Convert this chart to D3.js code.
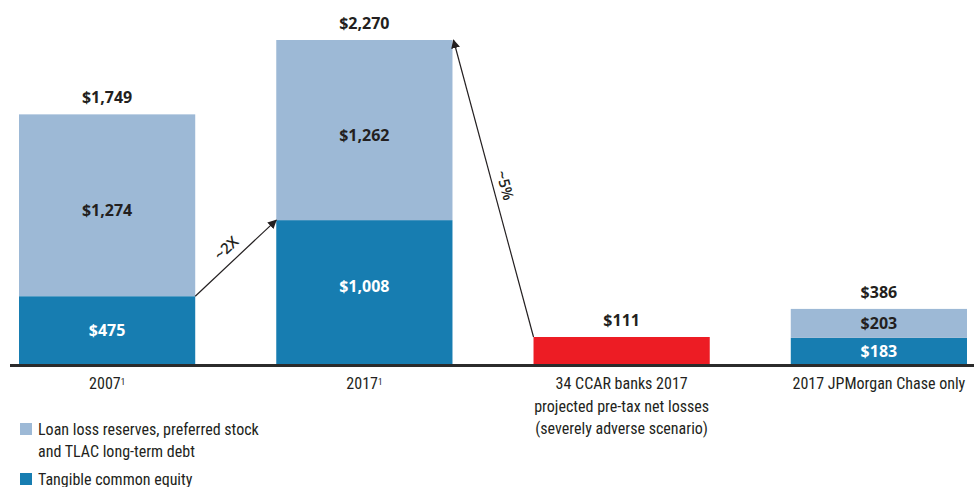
<!DOCTYPE html>
<html>
<head>
<meta charset="utf-8">
<script src="https://cdn.jsdelivr.net/npm/d3@7"></script>
<style>
  body { margin: 0; background: #fff; }
  svg text { fill: #231f20; }
  .val { font-family: "Open Sans", sans-serif; font-weight: 700; font-size: 16px; }
  .cat, .leg { font-family: "Liberation Sans Narrow", "Roboto Condensed", "Liberation Sans", sans-serif; font-size: 16px; }
</style>
</head>
<body>
<svg id="chart" width="974" height="487"></svg>
<script>
// Data
const categories = ["2007", "2017", "34 CCAR banks 2017", "2017 JPMorgan Chase only"];
const catLines = [
  ["2007"],
  ["2017"],
  ["34 CCAR banks 2017", "projected pre-tax net losses", "(severely adverse scenario)"],
  ["2017 JPMorgan Chase only"]
];
const catSup = ["1", "1", "", ""];
const tangibleEquity = [475, 1008, null, 183];
const reservesDebt = [1274, 1262, null, 203];
const netLosses = [null, null, 111, null];
const totals = [1749, 2270, 111, 386];
const legendLabels = [
  ["Loan loss reserves, preferred stock", "and TLAC long-term debt"],
  ["Tangible common equity"]
];

const lightBlue = "#9db9d6";
const darkBlue = "#177db1";
const red = "#ed1c24";

const svg = d3.select("#chart");

const x = d3.scaleBand().domain(categories).range([19, 967]).paddingInner(0.315).paddingOuter(0);
const y = d3.scaleLinear().domain([0, 2270]).range([364, 40]);
const bw = x.bandwidth();
const minRedHeight = 27;

// stacked bars
categories.forEach((c, i) => {
  if (tangibleEquity[i] != null) {
    const t = tangibleEquity[i], r = reservesDebt[i];
    svg.append("rect")
      .attr("x", x(c)).attr("width", bw)
      .attr("y", y(t)).attr("height", y(0) - y(t))
      .attr("fill", darkBlue);
    svg.append("rect")
      .attr("x", x(c)).attr("width", bw)
      .attr("y", y(t + r)).attr("height", y(t) - y(t + r))
      .attr("fill", lightBlue);
    // segment labels
    svg.append("text").attr("class", "val")
      .attr("x", x(c) + bw / 2)
      .attr("y", (y(0) + y(t)) / 2 + (i == 1 ? -6 : 0))
      .attr("dy", "0.36em").attr("text-anchor", "middle")
      .style("fill", "#fff")
      .text("$" + d3.format(",")(t));
    svg.append("text").attr("class", "val")
      .attr("x", x(c) + bw / 2)
      .attr("y", (y(t) + y(t + r)) / 2 + (i < 2 ? 5 : 0))
      .attr("dy", "0.36em").attr("text-anchor", "middle")
      .text("$" + d3.format(",")(r));
  }
});

// net losses bar (drawn with a minimum height)
let redTop = 0;
categories.forEach((c, i) => {
  if (netLosses[i] != null) {
    const h = Math.max(y(0) - y(netLosses[i]), minRedHeight);
    redTop = y(0) - h;
    svg.append("rect")
      .attr("x", x(c)).attr("width", bw)
      .attr("y", redTop).attr("height", h)
      .attr("fill", red);
  }
});

// totals
categories.forEach((c, i) => {
  const top = netLosses[i] != null ? redTop : y(totals[i]);
  svg.append("text").attr("class", "val")
    .attr("x", x(c) + bw / 2)
    .attr("y", top - 17)
    .attr("dy", "0.36em").attr("text-anchor", "middle")
    .text("$" + d3.format(",")(totals[i]));
});

// arrows
svg.append("defs").append("marker")
  .attr("id", "arrow").attr("viewBox", "0 0 10 10")
  .attr("refX", 9).attr("refY", 5)
  .attr("markerWidth", 9).attr("markerHeight", 9)
  .attr("markerUnits", "userSpaceOnUse")
  .attr("orient", "auto")
  .append("path").attr("d", "M0,0 L10,5 L0,10 z").attr("fill", "#231f20");

function arrow(x1, y1, x2, y2, label, off) {
  svg.append("line")
    .attr("x1", x1).attr("y1", y1).attr("x2", x2).attr("y2", y2)
    .attr("stroke", "#231f20").attr("stroke-width", 1.2)
    .attr("marker-end", "url(#arrow)");
  let ang = Math.atan2(y2 - y1, x2 - x1) * 180 / Math.PI;
  if (ang < -90) ang += 180;
  const mx = (x1 + x2) / 2, my = (y1 + y2) / 2;
  const len = Math.hypot(x2 - x1, y2 - y1);
  const nx = -(y2 - y1) / len, ny = (x2 - x1) / len;
  svg.append("text").attr("class", "val")
    .style("font-weight", 600).style("font-size", "15px")
    .attr("text-anchor", "middle").attr("dy", "0.36em")
    .attr("transform", `translate(${mx + nx * off},${my + ny * off}) rotate(${ang})`)
    .text(label);
}
arrow(x(categories[0]) + bw, y(tangibleEquity[0]), x(categories[1]), y(tangibleEquity[1]), "~2X", -14);
arrow(x(categories[2]), redTop, x(categories[1]) + bw + 1, y(totals[1]), "~5%", 12);

// baseline
svg.append("line")
  .attr("x1", 10).attr("x2", 974)
  .attr("y1", y(0) + 1.5).attr("y2", y(0) + 1.5)
  .attr("stroke", "#2b2b2b").attr("stroke-width", 3);

// category labels
const axis = svg.append("g")
  .attr("transform", `translate(0,${y(0) + 3})`)
  .call(d3.axisBottom(x).tickSize(0).tickFormat(""));
axis.select(".domain").remove();
axis.selectAll(".tick").each(function (d, i) {
  const t = d3.select(this).append("text").attr("class", "cat")
    .attr("text-anchor", "middle").attr("y", 8);
  catLines[i].forEach((ln, k) => {
    t.append("tspan").attr("x", 0).attr("dy", k == 0 ? "0.9em" : "1.4em").text(ln);
  });
  if (catSup[i]) {
    t.append("tspan").attr("dy", "-0.5em").style("font-size", "9px").text(catSup[i]);
  }
});

// legend
const legColors = [lightBlue, darkBlue];
const legY = [429, 479];
legendLabels.forEach((lines, i) => {
  svg.append("rect").attr("x", 20).attr("y", legY[i] - 6).attr("width", 12).attr("height", 12)
    .attr("fill", legColors[i]);
  const t = svg.append("text").attr("class", "leg").attr("x", 38).attr("y", legY[i]).attr("dy", "0.36em");
  lines.forEach((ln, k) => {
    t.append("tspan").attr("x", 38).attr("dy", k == 0 ? "0.36em" : "1.4em").text(ln);
  });
});
</script>
</body>
</html>
